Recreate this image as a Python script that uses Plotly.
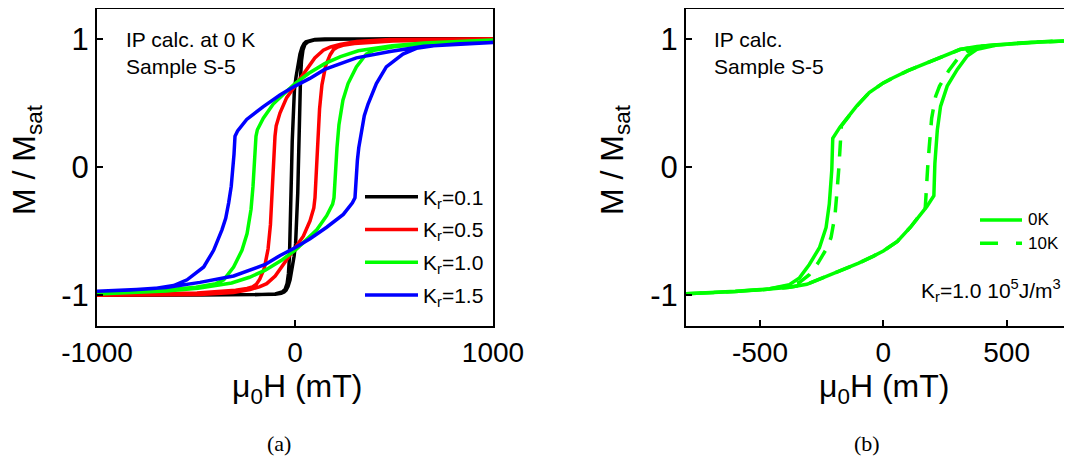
import plotly.graph_objects as go

# ---------------- data (descending branches; ascending branch is the point-reflection) ----------------
# Panel (a): IP calc. at 0 K, sample S-5
kr_labels = ["K<sub>r</sub>=0.1", "K<sub>r</sub>=0.5", "K<sub>r</sub>=1.0", "K<sub>r</sub>=1.5"]
kr_colors = ["#000000", "#ff0000", "#00ff00", "#0000ff"]

h_kr01 = [1000, 500, 300, 150, 100, 70, 55, 45, 35, 25, 15, 5, -3, -10, -14, -17, -20, -24, -28, -33, -40, -50, -65, -100, -200, -500, -1000]
m_kr01 = [1.0, 1.0, 0.999, 0.997, 0.993, 0.985, 0.975, 0.96, 0.93, 0.88, 0.8, 0.7, 0.6, 0.4, 0.2, 0.0, -0.25, -0.5, -0.7, -0.83, -0.91, -0.955, -0.975, -0.99, -0.996, -0.999, -1.0]

h_kr05 = [1000, 700, 480, 311, 227, 180, 143, 100, 59, 25, 0, -42, -76, -95, -101, -105, -110, -116, -124, -136, -155, -178, -195, -215, -242, -300, -400, -495, -700, -1000]
m_kr05 = [1.0, 0.998, 0.994, 0.978, 0.955, 0.935, 0.91, 0.85, 0.76, 0.69, 0.635, 0.54, 0.42, 0.32, 0.24, 0.1, -0.1, -0.3, -0.45, -0.64, -0.79, -0.875, -0.915, -0.935, -0.948, -0.962, -0.975, -0.982, -0.988, -0.992]

h_kr10 = [1000, 800, 650, 490, 320, 230, 150, 70, 0, -42, -110, -160, -190, -197, -202, -207, -212, -222, -242, -268, -310, -360, -400, -500, -660, -830, -1000]
m_kr10 = [0.99, 0.98, 0.967, 0.945, 0.905, 0.86, 0.805, 0.73, 0.65, 0.59, 0.49, 0.38, 0.29, 0.24, 0.1, -0.02, -0.15, -0.33, -0.52, -0.65, -0.78, -0.88, -0.91, -0.937, -0.96, -0.975, -0.985]

h_kr15 = [1000, 800, 650, 480, 310, 150, 75, 0, -76, -160, -244, -290, -303, -308, -315, -322, -335, -350, -369, -411, -461, -545, -613, -700, -832, -1000]
m_kr15 = [0.97, 0.955, 0.94, 0.90, 0.85, 0.76, 0.69, 0.63, 0.56, 0.47, 0.37, 0.28, 0.24, 0.1, -0.05, -0.15, -0.28, -0.40, -0.49, -0.65, -0.78, -0.88, -0.925, -0.945, -0.96, -0.97]

# Panel (b): IP calc., sample S-5, Kr = 1.0
temp_labels = ["0K", "10K"]
h_0K = [800, 600, 460, 380, 310, 190, 100, 40, 0, -57, -110, -176, -205, -209, -214, -219, -232, -259, -300, -340, -381, -460, -600, -800]
m_0K = [0.988, 0.972, 0.952, 0.938, 0.915, 0.82, 0.75, 0.695, 0.655, 0.58, 0.47, 0.31, 0.224, -0.026, -0.16, -0.288, -0.472, -0.63, -0.76, -0.865, -0.918, -0.95, -0.97, -0.988]

h_10K = [800, 600, 460, 380, 310, 190, 100, 40, 0, -57, -110, -170, -174, -180, -186, -196, -212, -228, -265, -300, -340, -381, -460, -600, -800]
m_10K = [0.988, 0.972, 0.952, 0.938, 0.915, 0.82, 0.75, 0.695, 0.655, 0.58, 0.47, 0.32, 0.15, 0.0, -0.15, -0.38, -0.55, -0.63, -0.75, -0.84, -0.9, -0.925, -0.95, -0.97, -0.988]

xticks_a = [-1000, 0, 1000]
xticktext_a = ["-1000", "0", "1000"]
xticks_b = [-500, 0, 500]
xticktext_b = ["-500", "0", "500"]
yticks = [-1, 0, 1]
yticktext = ["-1", "0", "1"]


def full_loop(h_desc, m_desc):
    """descending branch followed by its point-reflected ascending branch"""
    h = list(h_desc) + [-v for v in h_desc]
    m = list(m_desc) + [-v for v in m_desc]
    return h, m


# the page body has an 8px margin, so the figure is 8px smaller and all page coords are offset by 8
OFF = 8
W, H = 1072 - OFF, 461 - OFF
FONT = "Liberation Sans, Arial, sans-serif"
SERIF = "Liberation Serif, Times New Roman, serif"


def px(x):
    return (x - OFF) / W


def py(y):
    return 1 - (y - OFF) / H


fig = go.Figure()

loops_a = [(h_kr01, m_kr01), (h_kr05, m_kr05), (h_kr10, m_kr10), (h_kr15, m_kr15)]
for (hd, md), name, col in zip(loops_a, kr_labels, kr_colors):
    hh, mm = full_loop(hd, md)
    fig.add_trace(go.Scatter(x=hh, y=mm, mode="lines", name=name, showlegend=False,
                             line=dict(color=col, width=3.5), xaxis="x", yaxis="y"))

hh, mm = full_loop(h_0K, m_0K)
fig.add_trace(go.Scatter(x=hh, y=mm, mode="lines", name=temp_labels[0], showlegend=False,
                         line=dict(color="#00ff00", width=3.5), xaxis="x2", yaxis="y2"))
hh, mm = full_loop(h_10K, m_10K)
fig.add_trace(go.Scatter(x=hh, y=mm, mode="lines", name=temp_labels[1], showlegend=False,
                         line=dict(color="#00ff00", width=3.5, dash="16px,12px"), xaxis="x2", yaxis="y2"))

ydom = [py(326), py(8.5)]
axis_common = dict(showline=True, linecolor="black", linewidth=2, ticks="inside", ticklen=6,
                   tickwidth=2, tickcolor="black", showgrid=False, zeroline=False, automargin=False)

fig.update_layout(
    template="none",
    width=W, height=H, autosize=False,
    margin=dict(l=0, r=0, t=0, b=0, pad=0),
    paper_bgcolor="white", plot_bgcolor="white",
    font=dict(family=FONT, color="black"),
    showlegend=False,
    xaxis=dict(domain=[px(97), px(493)], range=[-1000, 1000], anchor="y", mirror=True,
               tickvals=xticks_a, ticktext=xticktext_a, tickfont=dict(family=FONT, size=28, color="black"),
               **axis_common),
    yaxis=dict(domain=ydom, range=[-1.24, 1.235], anchor="x", mirror=True,
               tickvals=yticks, ticktext=yticktext, tickfont=dict(family=FONT, size=31, color="black"),
               **axis_common),
    xaxis2=dict(domain=[px(686), 1.0], range=[-800, 765], anchor="y2", mirror=True,
                tickvals=xticks_b, ticktext=xticktext_b, tickfont=dict(family=FONT, size=28, color="black"),
                **axis_common),
    yaxis2=dict(domain=ydom, range=[-1.24, 1.235], anchor="x2", mirror=False,
                tickvals=yticks, ticktext=yticktext, tickfont=dict(family=FONT, size=31, color="black"),
                **axis_common),
)

ann = []
shapes = []


def text(x, y, s, size, xanchor="center", yanchor="middle", angle=0, family=FONT, align="center"):
    ann.append(dict(x=px(x), y=py(y), xref="paper", yref="paper", text=s, showarrow=False,
                    xanchor=xanchor, yanchor=yanchor, textangle=angle, align=align,
                    font=dict(family=family, size=size, color="black")))


# axis titles
text(297, 388, "μ<sub>0</sub>H (mT)", 32)
text(884, 388, "μ<sub>0</sub>H (mT)", 32)
text(27, 160, "M / M<sub>sat</sub>", 32, angle=-90)
text(615, 160, "M / M<sub>sat</sub>", 32, angle=-90)

# in-plot notes
text(124, 53, "IP calc. at 0 K<br>Sample S-5", 21, xanchor="left", align="left")
text(712, 53, "IP calc.<br>Sample S-5", 21, xanchor="left", align="left")
text(1063, 290, "K<sub>r</sub>=1.0 10<sup>5</sup>J/m<sup>3</sup>", 21, xanchor="right")

# panel labels
text(279, 443, "(a)", 22, family=SERIF)
text(867, 443, "(b)", 22, family=SERIF)

# legend (a)
for i, (name, col) in enumerate(zip(kr_labels, kr_colors)):
    yy = 196.7 + 32.8 * i
    shapes.append(dict(type="line", xref="paper", yref="paper", x0=px(365), x1=px(418), y0=py(yy), y1=py(yy),
                       line=dict(color=col, width=3.5)))
    text(421, yy + 2, name, 21, xanchor="left")

# legend (b)
for i, (name, dash) in enumerate(zip(temp_labels, ["solid", "18px,18px"])):
    yy = 220 + 23.3 * i
    shapes.append(dict(type="line", xref="paper", yref="paper", x0=px(980), x1=px(1022), y0=py(yy), y1=py(yy),
                       line=dict(color="#00ff00", width=3.5, dash=dash)))
    text(1026, yy, name, 17, xanchor="left")

fig.update_layout(annotations=ann, shapes=shapes)
fig.write_html("out.html")
